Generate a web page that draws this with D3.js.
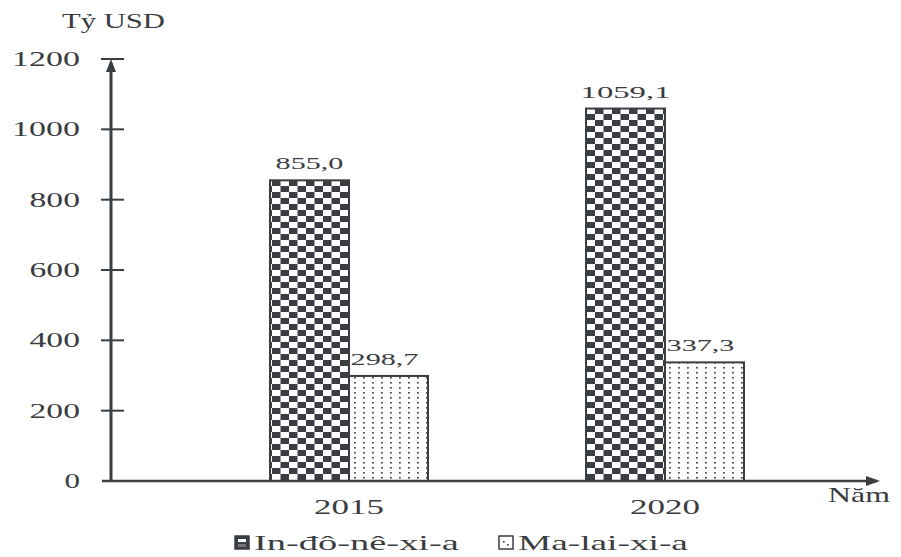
<!DOCTYPE html>
<html>
<head>
<meta charset="utf-8">
<script src="https://cdn.jsdelivr.net/npm/d3@7"></script>
<style>
  html,body{margin:0;padding:0;background:#fff;}
  svg{display:block;}
  text{fill:#3a3c40;}
</style>
</head>
<body>
<svg id="chart" width="901" height="557"></svg>
<script>
const years = ["2015", "2020"];
const seriesNames = ["In-đô-nê-xi-a", "Ma-lai-xi-a"];
const indonesia = [855.0, 1059.1];
const malaysia = [298.7, 337.3];
const yTicks = [0, 200, 400, 600, 800, 1000, 1200];
const yTitle = "Tỷ USD";
const xTitle = "Năm";

const seriesValues = [indonesia, malaysia];
const fmt = v => v.toFixed(1).replace(".", ",");

const W = 901, H = 557;
const margin = {left: 111, right: 16, top: 59, bottom: 76};
const ink = "#3a3d42";
const FONT = "'Liberation Serif', 'Times New Roman', serif";

const svg = d3.select("#chart");
const defs = svg.append("defs");

const pc = defs.append("pattern").attr("id", "checker").attr("patternUnits", "userSpaceOnUse")
  .attr("width", 17).attr("height", 12);
pc.append("rect").attr("width", 17).attr("height", 12).attr("fill", "#fff");
pc.append("rect").attr("x", 0).attr("y", 0).attr("width", 8.5).attr("height", 6).attr("fill", ink);
pc.append("rect").attr("x", 8.5).attr("y", 6).attr("width", 8.5).attr("height", 6).attr("fill", ink);

const pd = defs.append("pattern").attr("id", "dots").attr("patternUnits", "userSpaceOnUse")
  .attr("width", 9).attr("height", 5);
pd.append("rect").attr("width", 9).attr("height", 5).attr("fill", "#fff");
pd.append("rect").attr("x", 3).attr("y", 2).attr("width", 1.8).attr("height", 1.6).attr("fill", "#45484d");

const fills = ["url(#checker)", "url(#dots)"];

const y = d3.scaleLinear().domain([0, 1200]).range([H - margin.bottom, margin.top]);
const xRight = W - margin.right;
const x = d3.scalePoint().domain(years).range([margin.left + 238, xRight - 220]);
const inner = d3.scaleBand().domain(seriesNames).range([-79, 79]).padding(0);

// text stretched horizontally to a target width (the reference type is wide)
function stext(g, tx, ty, str, size, anchor, width) {
  const t = g.append("text")
    .attr("text-anchor", anchor || "start")
    .attr("font-family", FONT)
    .style("font-size", size + "px")
    .text(str);
  const nat = t.node().getComputedTextLength() || 1;
  const sx = width / nat;
  t.attr("transform", `translate(${tx},${ty}) scale(${sx},1)`);
  return t;
}

const bars = svg.append("g");
years.forEach((yr, i) => {
  seriesNames.forEach((s, j) => {
    const v = seriesValues[j][i];
    const bx = x(yr) + inner(s);
    bars.append("rect")
      .attr("x", bx).attr("y", y(v))
      .attr("width", inner.bandwidth()).attr("height", y(0) - y(v))
      .attr("fill", fills[j]).attr("stroke", ink).attr("stroke-width", 2);
    const lab = fmt(v);
    stext(bars, bx + inner.bandwidth() / 2 + (j === 1 ? -4 : 0), y(v) - 11, lab, 17, "middle",
      lab.length > 5 ? 90 : 68);
  });
});

const ax = svg.append("g");
ax.append("line").attr("x1", margin.left).attr("x2", margin.left)
  .attr("y1", y(0)).attr("y2", y(1200) + 4).attr("stroke", ink).attr("stroke-width", 3);
ax.append("path")
  .attr("d", `M${margin.left},${y(1200)} L${margin.left - 5},${y(1200) + 13} L${margin.left + 5},${y(1200) + 13} Z`)
  .attr("fill", ink);
yTicks.forEach(t => {
  if (t > 0) {
    ax.append("line").attr("x1", margin.left - 10).attr("x2", margin.left + 13)
      .attr("y1", y(t)).attr("y2", y(t)).attr("stroke", ink).attr("stroke-width", 2);
  }
  const s = String(t);
  stext(ax, 80, y(t) + 7, s, 20, "end", 17.5 * s.length - 2);
});
stext(ax, 62, 28, yTitle, 20, "start", 103);

ax.append("line").attr("x1", margin.left - 9).attr("x2", xRight - 8)
  .attr("y1", y(0)).attr("y2", y(0)).attr("stroke", ink).attr("stroke-width", 2.5);
ax.append("path")
  .attr("d", `M${xRight - 5},${y(0)} L${xRight - 19},${y(0) - 5} L${xRight - 19},${y(0) + 5} Z`)
  .attr("fill", ink);
years.forEach(yr => stext(ax, x(yr), y(0) + 33, yr, 21, "middle", 70));
stext(ax, 828, y(0) + 21, xTitle, 21, "start", 62);

const lg = svg.append("g");
const legendX = [235, 499];
const legendW = [205, 170];
seriesNames.forEach((s, j) => {
  lg.append("rect").attr("x", legendX[j]).attr("y", 536).attr("width", 14).attr("height", 13)
    .attr("fill", j === 0 ? ink : "#fff").attr("stroke", ink).attr("stroke-width", 1.5);
  if (j === 0) {
    lg.append("rect").attr("x", legendX[j] + 3).attr("y", 539).attr("width", 8).attr("height", 3).attr("fill", "#fff");
    lg.append("rect").attr("x", legendX[j] + 3).attr("y", 544).attr("width", 8).attr("height", 3).attr("fill", "#777");
  } else {
    lg.append("rect").attr("x", legendX[j] + 4).attr("y", 541).attr("width", 1.6).attr("height", 1.6).attr("fill", ink);
    lg.append("rect").attr("x", legendX[j] + 8).attr("y", 544).attr("width", 1.6).attr("height", 1.6).attr("fill", ink);
  }
  stext(lg, legendX[j] + 19, 550, s, 22, "start", legendW[j]);
});
</script>
</body>
</html>
